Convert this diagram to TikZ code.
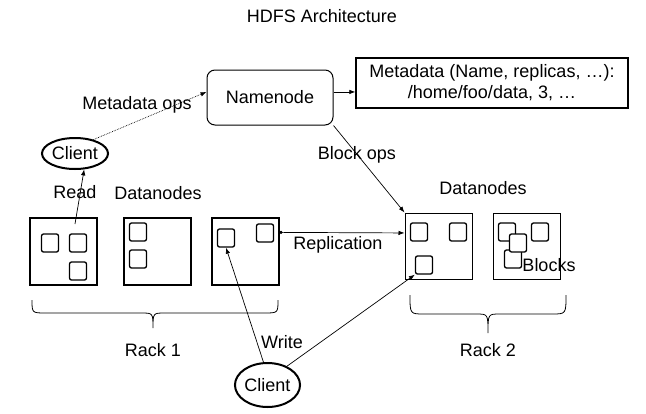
\documentclass[tikz,border=0pt]{standalone}
\usepackage{fontspec}
\setmainfont{Liberation Sans}
\usetikzlibrary{arrows.meta,shapes.geometric}
\tikzstyle{every node}=[font=\fontsize{18}{21}\selectfont]
\tikzstyle{rack box}=[draw=black,line width=2pt,minimum width=67pt,minimum height=67pt,inner sep=0pt]
\tikzstyle{thin box}=[draw=black,line width=1pt,minimum width=67pt,minimum height=66pt,inner sep=0pt]
\tikzstyle{block}=[draw=black,fill=white,line width=1.3pt,rounded corners=2pt,minimum width=17pt,minimum height=18pt,inner sep=0pt]
\tikzstyle{client}=[draw=black,ellipse,line width=2pt,inner sep=0pt]
\tikzstyle{link}=[-{Latex[length=6pt,width=4.5pt]},line width=0.7pt]

\begin{document}
\begin{tikzpicture}[x=1pt, y=-1pt]
\useasboundingbox (0,0) rectangle (646,413);
%title
\node (title) at (322,16) {HDFS Architecture};
%namenode and metadata
\node[draw=black,line width=1pt,rounded corners=8pt,minimum width=126pt,minimum height=55pt,inner sep=0pt]
	(name node) at (270,97.5) {Namenode};
\node[draw=black,line width=1.3pt,minimum width=272pt,minimum height=50pt,inner sep=0pt,align=center]
	(meta data) at (492,83) {Metadata (Name, replicas, \dots):\\/home/foo/data, 3, \dots};
%clients
\node[client,minimum width=66pt,minimum height=31pt] (client a) at (75,153.5) {Client};
\node[client,minimum width=65pt,minimum height=44pt] (client b) at (267.5,385) {Client};
%rack 1
\foreach \n/\x in {a1/63.5, a2/157, a3/245}
	\node[rack box] (rack \n) at (\x,251.5) {};
%rack 2
\foreach \n/\x in {b1/438.5, b2/526.5}
	\node[thin box] (rack \n) at (\x,246) {};
%blocks
\foreach \n/\x/\y in {
	a1a/50/243,
	a1b/78/243,
	a1c/78/271,
	a2a/138/232,
	a2b/138/259,
	a3a/226/238,
	a3b/265/233,
	b1a/419/232,
	b1b/458/232,
	b1c/424/265,
	b2a/507/232,
	b2b/540/232,
	b2d/513/259,
	b2c/518/243
}
\node[block] (sq \n) at (\x,\y) {};
%labels
\node (read lbl) at (75,192) {Read};
\node (dn a lbl) at (158,193) {Datanodes};
\node (dn b lbl) at (483,188) {Datanodes};
\node (meta lbl) at (137,105) {Metadata ops};
\node (block lbl) at (357,155) {Block ops};
\node (repl lbl) at (338,245) {Replication};
\node (blocks lbl) at (549,265) {Blocks};
\node (write lbl) at (282,342) {Write};
\node (rack a lbl) at (153,350) {Rack 1};
\node (rack b lbl) at (488,350) {Rack 2};
%arrows
\coordinate (read from) at (75,224);
\draw[link,densely dotted] (client a.37) -- (name node.175);
\draw[link] (name node.5) -- (name node.5 -| meta data.west);
\draw[link] (name node.south east) -- (rack b1.north west);
\draw[link] (read from) -- (client a.-60);
\draw[{Circle[length=3pt]}-{Latex[length=6pt,width=4.5pt]},line width=0.7pt] (rack a3.29) -- (rack b1.159);
\draw[link] (client b.100) -- (sq a3a.south);
\draw[link] (client b.44) -- (sq b1c.south west);
%braces
\draw[line width=0.8pt] (32,300) .. controls (32,313) .. (46,313) -- (141,313)
	.. controls (153,313) .. (153,328) .. controls (153,313) .. (165,313) -- (264,313)
	.. controls (278,313) .. (278,300);
\draw[line width=0.8pt] (410,295) .. controls (410,314) .. (424,314) -- (476,314)
	.. controls (488,314) .. (488,333) .. controls (488,314) .. (500,314) -- (552,314)
	.. controls (566,314) .. (566,295);
\end{tikzpicture}
\end{document}
